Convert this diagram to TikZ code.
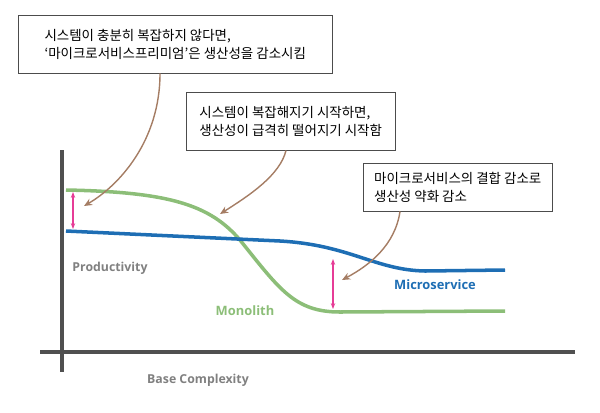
\documentclass[tikz,border=0pt]{standalone}
\usepackage{fontspec}
\setmainfont{Open Sans}
\newfontfamily\kr{Noto Sans CJK KR}
\usetikzlibrary{arrows.meta}
\definecolor{axisgray}{RGB}{80,80,80}
\definecolor{mono}{RGB}{140,190,120}
\definecolor{micro}{RGB}{30,110,180}
\definecolor{callarrow}{RGB}{165,125,100}
\definecolor{gap}{RGB}{230,60,150}
\begin{document}
\begin{tikzpicture}[
  x=0.03cm, y=-0.03cm,
  callout/.style={rectangle, draw=black!70, fill=white, align=left, inner sep=6pt, font=\kr\fontsize{11.5}{15}\selectfont, anchor=north west},
  axislabel/.style={text=gray, font=\bfseries\fontsize{10.5}{12}\selectfont},
  pointer/.style={callarrow, line width=1.2pt, -{Stealth[length=7pt,width=6pt]}},
  gaparrow/.style={gap, line width=0.9pt, {Stealth[length=5pt]}-{Stealth[length=5pt]}}
]
\useasboundingbox (0,0) rectangle (600,412);

% Axes
\draw[axisgray, line width=4pt] (62,150) -- (62,372);
\draw[axisgray, line width=4pt] (40,352) -- (575,352);
\node[axislabel] (ylab) at (110,268) {Productivity};
\node[axislabel] (xlab) at (198,380) {Base Complexity};

% Curves
\draw[mono, line width=3pt] (66,190) .. controls (170,192) and (210,205) .. (240,240)
  .. controls (280,290) and (295,312) .. (340,312) -- (505,311);
\draw[micro, line width=3pt] (66,231) -- (280,241) .. controls (350,245) and (375,270) .. (425,271) -- (505,270);
\node[mono, font=\bfseries\fontsize{11}{13}\selectfont] (mlab) at (245,311) {Monolith};
\node[micro, font=\bfseries\fontsize{11}{13}\selectfont] (slab) at (435,285) {Microservice};

% Gaps
\coordinate (g1t) at (73,192);
\coordinate (g1b) at (73,229);
\coordinate (g2t) at (333,259);
\coordinate (g2b) at (333,309);
\draw[gaparrow] (g1t) -- (g1b);
\draw[gaparrow] (g2t) -- (g2b);

% Callouts
\node[callout, minimum width=314*0.03cm, minimum height=58*0.03cm] (c1) at (18,15) {시스템이 충분히 복잡하지 않다면,\\‘마이크로서비스프리미엄’은 생산성을 감소시킴};
\node[callout, minimum width=209*0.03cm, minimum height=58*0.03cm] (c2) at (186,92) {시스템이 복잡해지기 시작하면,\\생산성이 급격히 떨어지기 시작함};
\node[callout, minimum width=189*0.03cm, minimum height=48*0.03cm] (c3) at (363,163) {마이크로서비스의 결합 감소로\\생산성 약화 감소};

\coordinate (p1) at (84,206);
\coordinate (p2) at (220,214);
\coordinate (p3) at (342,280);
\draw[pointer] (c1.south -| 160,0) .. controls (160,140) and (120,185) .. (p1);
\draw[pointer] (c2.south -| 286,0) .. controls (280,175) and (250,195) .. (p2);
\draw[pointer] (c3.south -| 400,0) .. controls (395,245) and (370,265) .. (p3);
\end{tikzpicture}
\end{document}
